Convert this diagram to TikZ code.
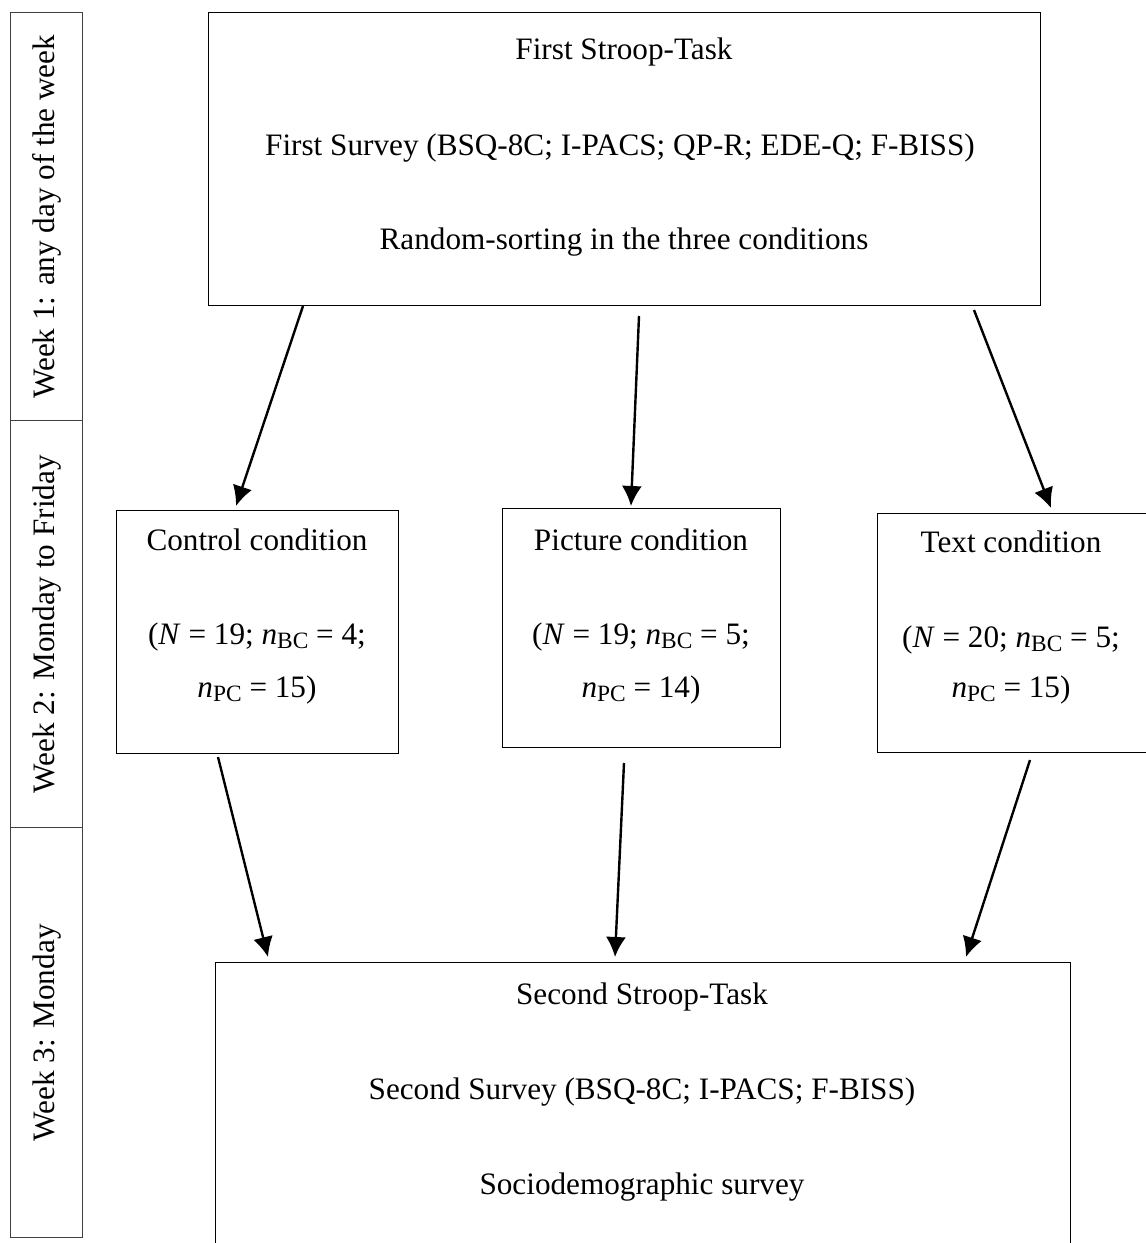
\documentclass[tikz,border=0pt]{standalone}
\usepackage{fontspec}
\setmainfont{Liberation Serif}
\usetikzlibrary{arrows.meta,positioning,calc}
\newcommand\mysubx[1]{\raisebox{-0.3ex}{\fontsize{11.7}{14}\selectfont #1}}
\begin{document}
\begin{tikzpicture}[x=0.5pt,y=-0.5pt,
  box/.style={draw=black,line width=0.7pt,inner sep=0pt},
  lbl/.style={inner sep=0pt,font=\fontsize{15.6}{19}\selectfont},
  arr/.style={line width=1.2pt,-{Latex[length=10pt,width=10pt]}}]
\useasboundingbox (0,0) rectangle (1146,1243);
\clip (0,0) rectangle (1146,1243);
% week column
\node[box,draw=black!75,minimum width=36pt,minimum height=204pt,anchor=north west] (w1) at (10,12) {};
\node[box,draw=black!75,minimum width=36pt,minimum height=203.5pt,anchor=north west] (w2) at (10,420) {};
\node[box,draw=black!75,minimum width=36pt,minimum height=205pt,anchor=north west] (w3) at (10,827) {};
\node[lbl,rotate=90] (t1) at (w1.center) {Week 1: any day of the week};
\node[lbl,rotate=90] (t2) at (w2.center) {Week 2: Monday to Friday};
\node[lbl,rotate=90] (t3) at (w3.center) {Week 3: Monday};
% top box
\node[box,minimum width=416pt,minimum height=146.5pt,anchor=north west] (top) at (208,12) {};
\node[lbl] (top1) at (624,52) {First Stroop-Task};
\node[lbl] (top2) at (620,148) {First Survey (BSQ-8C; I-PACS; QP-R; EDE-Q; F-BISS)};
\node[lbl] (top3) at (624,242) {Random-sorting in the three conditions};
% condition boxes
\node[box,minimum width=141pt,minimum height=121.5pt,anchor=north west] (ctl) at (116,510) {};
\node[lbl] (ctl1) at (257,540) {Control condition};
\node[lbl] (ctl2) at (257,637) {(\textit{N} = 19; \textit{n}\mysubx{BC} = 4;};
\node[lbl] (ctl3) at (257,690) {\textit{n}\mysubx{PC} = 15)};
\node[box,minimum width=139pt,minimum height=119.5pt,anchor=north west] (pic) at (502,508) {};
\node[lbl] (pic1) at (641,540) {Picture condition};
\node[lbl] (pic2) at (641,637) {(\textit{N} = 19; \textit{n}\mysubx{BC} = 5;};
\node[lbl] (pic3) at (641,690) {\textit{n}\mysubx{PC} = 14)};
\node[box,minimum width=140pt,minimum height=119.5pt,anchor=north west] (txt) at (877,513) {};
\node[lbl] (txt1) at (1011,542) {Text condition};
\node[lbl] (txt2) at (1011,640) {(\textit{N} = 20; \textit{n}\mysubx{BC} = 5;};
\node[lbl] (txt3) at (1011,690) {\textit{n}\mysubx{PC} = 15)};
% bottom box
\node[box,minimum width=427.5pt,minimum height=160pt,anchor=north west] (bot) at (215,962) {};
\node[lbl] (bot1) at (642,997) {Second Stroop-Task};
\node[lbl] (bot2) at (642,1092) {Second Survey (BSQ-8C; I-PACS; F-BISS)};
\node[lbl] (bot3) at (642,1187) {Sociodemographic survey};
% arrow end points
\coordinate (a1s) at (303,306); \coordinate (a1e) at (236,506);
\coordinate (a2s) at (639,316); \coordinate (a2e) at (631,506);
\coordinate (a3s) at (974,310); \coordinate (a3e) at (1051,508);
\coordinate (a4s) at (218,757); \coordinate (a4e) at (268,957);
\coordinate (a5s) at (624,763); \coordinate (a5e) at (615,957);
\coordinate (a6s) at (1030,760); \coordinate (a6e) at (966,957);
\draw[arr] (a1s) -- (a1e);
\draw[arr] (a2s) -- (a2e);
\draw[arr] (a3s) -- (a3e);
\draw[arr] (a4s) -- (a4e);
\draw[arr] (a5s) -- (a5e);
\draw[arr] (a6s) -- (a6e);
\end{tikzpicture}
\end{document}
